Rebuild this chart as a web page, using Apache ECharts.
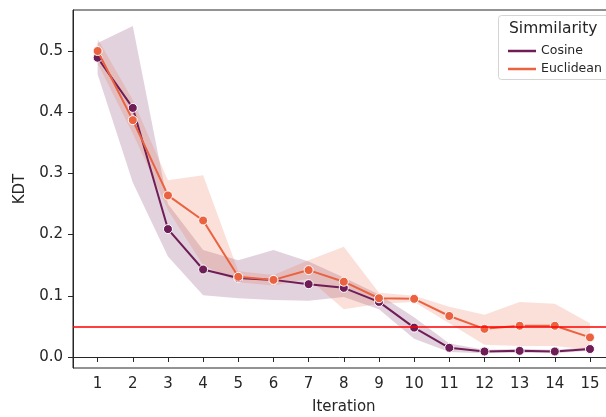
<!DOCTYPE html>
<html>
<head>
<meta charset="utf-8">
<script src="https://cdn.jsdelivr.net/npm/echarts@6/dist/echarts.min.js"></script>
<style>html,body{margin:0;padding:0;background:#fff;}#c{width:606px;height:417px;}</style>
</head>
<body>
<div id="c"></div>
<script>
var iterations = [1,2,3,4,5,6,7,8,9,10,11,12,13,14,15];
var xTicks = [1,2,3,4,5,6,7,8,9,10,11,12,13,14,15];
var yTicks = [0.0,0.1,0.2,0.3,0.4,0.5];
var cosine    = [0.489,0.407,0.209,0.143,0.129,0.126,0.119,0.113,0.090,0.048,0.015,0.009,0.010,0.009,0.013];
var cosineLow = [0.462,0.285,0.164,0.101,0.096,0.093,0.092,0.098,0.078,0.030,0.008,0.006,0.007,0.006,0.010];
var cosineHigh= [0.513,0.541,0.250,0.175,0.158,0.175,0.156,0.130,0.102,0.065,0.022,0.012,0.013,0.012,0.016];
var euclidean    = [0.500,0.387,0.264,0.223,0.131,0.126,0.142,0.123,0.096,0.095,0.067,0.046,0.051,0.051,0.032];
var euclideanLow = [0.480,0.365,0.240,0.150,0.122,0.117,0.128,0.078,0.087,0.090,0.055,0.020,0.018,0.018,0.012];
var euclideanHigh= [0.520,0.420,0.289,0.297,0.140,0.134,0.158,0.180,0.105,0.100,0.082,0.069,0.090,0.087,0.055];
var threshold = 0.051;
var seriesNames = ['Cosine','Euclidean'];
var legendTitle = 'Simmilarity';

var cosColor = '#6f1d57', eucColor = '#ea6240';
var FONT = 'DejaVu Sans';

function bandSeries(low, high, fill) {
  return {
    type: 'custom', z: 1, silent: true,
    data: [0],
    renderItem: function (params, api) {
      var pts = [];
      for (var i = 0; i < iterations.length; i++) pts.push(api.coord([iterations[i], high[i]]));
      for (var j = iterations.length - 1; j >= 0; j--) pts.push(api.coord([iterations[j], low[j]]));
      return { type: 'polygon', shape: { points: pts }, style: { fill: fill, stroke: null } };
    }
  };
}
function pairs(vals) { return iterations.map(function (x, i) { return [x, vals[i]]; }); }

var chart = echarts.init(document.getElementById('c'), null, { renderer: 'canvas' });
chart.setOption({
  animation: false,
  backgroundColor: '#fff',
  grid: { left: 73, right: -8.6, top: 10, bottom: 49, show: true, borderColor: '#262626', borderWidth: 1,
    backgroundColor: 'transparent', containLabel: false, outerBoundsMode: 'none' },
  xAxis: {
    type: 'value', min: 0.3, max: 15.7,
    name: 'Iteration', nameLocation: 'middle', nameGap: 32,
    nameTextStyle: { fontFamily: FONT, fontSize: 15, color: '#262626' },
    axisLine: { show: true, lineStyle: { color: '#262626', width: 1 } },
    axisTick: { show: true, length: 5, customValues: xTicks, lineStyle: { color: '#262626' } },
    axisLabel: { customValues: xTicks, fontFamily: FONT, fontSize: 15, color: '#262626', margin: 9 },
    splitLine: { show: false }
  },
  yAxis: {
    type: 'value', min: -0.018, max: 0.567,
    name: 'KDT', nameLocation: 'middle', nameGap: 45, nameRotate: 90,
    nameTextStyle: { fontFamily: FONT, fontSize: 15, color: '#262626' },
    axisLine: { show: true, lineStyle: { color: '#262626', width: 1 } },
    axisTick: { show: true, length: 5, customValues: yTicks, lineStyle: { color: '#262626' } },
    axisLabel: { customValues: yTicks, fontFamily: FONT, fontSize: 15, color: '#262626', margin: 10,
      formatter: function (v) { return v.toFixed(1); } },
    splitLine: { show: false }
  },
  legend: {
    data: seriesNames, orient: 'vertical', left: 503, top: 39, z: 20,
    icon: 'rect', itemWidth: 28, itemHeight: 2.5, itemGap: 4,
    itemStyle: { borderWidth: 0, opacity: 1 },
    textStyle: { fontFamily: FONT, fontSize: 12.5, color: '#262626', lineHeight: 14 },
    selectedMode: false
  },
  graphic: [
    { type: 'rect', left: 498, top: 15, z: 15, shape: { width: 120, height: 64, r: 3 },
      style: { fill: 'rgba(255,255,255,0.85)', stroke: '#d4d4d4', lineWidth: 1 } },
    { type: 'text', left: 509, top: 21, z: 16,
      style: { text: legendTitle, fontFamily: FONT, fontSize: 15.5, fill: '#262626' } }
  ],
  series: [
    bandSeries(cosineLow, cosineHigh, 'rgba(111,29,87,0.2)'),
    bandSeries(euclideanLow, euclideanHigh, 'rgba(234,98,64,0.2)'),
    { name: 'Cosine', type: 'line', z: 3, data: pairs(cosine), color: cosColor,
      lineStyle: { width: 2, color: cosColor }, symbol: 'circle', symbolSize: 9,
      itemStyle: { color: cosColor, borderColor: '#fff', borderWidth: 1 } },
    { name: 'Euclidean', type: 'line', z: 4, data: pairs(euclidean), color: eucColor,
      lineStyle: { width: 2, color: eucColor }, symbol: 'circle', symbolSize: 9,
      itemStyle: { color: eucColor, borderColor: '#fff', borderWidth: 1 },
      markLine: { silent: true, symbol: 'none', label: { show: false }, z: 10,
        lineStyle: { color: '#ff0000', width: 1.6, type: 'solid' },
        data: [{ yAxis: threshold }] } }
  ]
});
</script>
</body>
</html>
